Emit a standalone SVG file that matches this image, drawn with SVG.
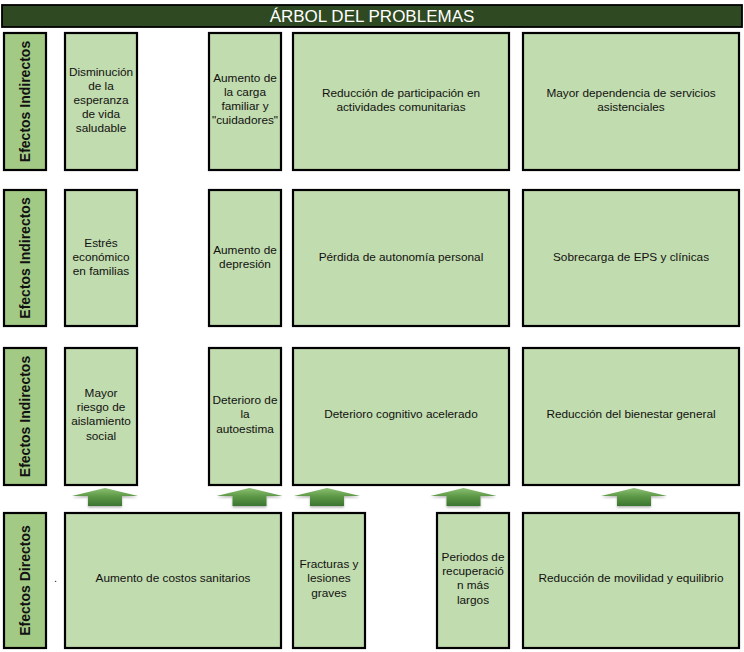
<svg xmlns="http://www.w3.org/2000/svg" width="744" height="652" viewBox="0 0 744 652">
<style>
.box{fill:#c1dcae;stroke:#000;stroke-width:2.2}
.lab{fill:#a2ca85;stroke:#000;stroke-width:2.2}
.t{font-family:"Liberation Sans",Arial,sans-serif;font-size:11.8px;fill:#111;text-anchor:middle}
.v{font-family:"Liberation Sans",Arial,sans-serif;font-size:14px;font-weight:bold;fill:#111;text-anchor:middle}
.arr{fill:url(#ag)}
</style>
<defs>
<linearGradient id="ag" x1="0" y1="0" x2="0" y2="1">
<stop offset="0" stop-color="#8cc072"/>
<stop offset="0.45" stop-color="#5e9a48"/>
<stop offset="1" stop-color="#3b7431"/>
</linearGradient>
<filter id="sh" x="-20%" y="-20%" width="140%" height="160%">
<feDropShadow dx="0" dy="1.5" stdDeviation="1" flood-color="#000" flood-opacity="0.3"/>
</filter>
<path id="arrow" d="M-33,8 L0,0 L33,8 L17,8 L17,18 L-17,18 L-17,8 Z"/>
</defs>

<g id="title">
<rect x="2" y="5" width="740" height="22" fill="#2f4a22" stroke="#000" stroke-width="1.8"/>
<text x="372" y="22" font-family="Liberation Sans,Arial,sans-serif" font-size="17" fill="#fff" text-anchor="middle">ÁRBOL DEL PROBLEMAS</text>
</g>

<g id="labels">
<g id="lab1"><rect class="lab" x="4" y="33" width="42" height="137"/><text class="v" transform="translate(30,101.5) rotate(-90)">Efectos Indirectos</text></g>
<g id="lab2"><rect class="lab" x="4" y="190" width="42" height="136"/><text class="v" transform="translate(30,258) rotate(-90)">Efectos Indirectos</text></g>
<g id="lab3"><rect class="lab" x="4" y="348" width="42" height="137"/><text class="v" transform="translate(30,416.5) rotate(-90)">Efectos Indirectos</text></g>
<g id="lab4"><rect class="lab" x="4" y="513" width="42" height="135"/><text class="v" transform="translate(30,580.5) rotate(-90)">Efectos Directos</text></g>
</g>

<g id="row1">
<g id="n1a"><rect class="box" x="65" y="33" width="72" height="137"/>
<text class="t" x="101" y="76">Disminución</text><text class="t" x="101" y="90">de la</text><text class="t" x="101" y="104">esperanza</text><text class="t" x="101" y="118">de vida</text><text class="t" x="101" y="132">saludable</text></g>
<g id="n1b"><rect class="box" x="209" y="33" width="72" height="137"/>
<text class="t" x="245" y="82">Aumento de</text><text class="t" x="245" y="96">la carga</text><text class="t" x="245" y="110">familiar y</text><text class="t" x="245" y="124">"cuidadores"</text></g>
<g id="n1c"><rect class="box" x="293" y="33" width="216" height="137"/>
<text class="t" x="401" y="97">Reducción de participación en</text><text class="t" x="401" y="111">actividades comunitarias</text></g>
<g id="n1d"><rect class="box" x="523" y="33" width="216" height="137"/>
<text class="t" x="631" y="97">Mayor dependencia de servicios</text><text class="t" x="631" y="111">asistenciales</text></g>
</g>

<g id="row2">
<g id="n2a"><rect class="box" x="65" y="190" width="72" height="136"/>
<text class="t" x="101" y="247">Estrés</text><text class="t" x="101" y="261">económico</text><text class="t" x="101" y="275">en familias</text></g>
<g id="n2b"><rect class="box" x="209" y="190" width="72" height="136"/>
<text class="t" x="245" y="254">Aumento de</text><text class="t" x="245" y="268">depresión</text></g>
<g id="n2c"><rect class="box" x="293" y="190" width="216" height="136"/>
<text class="t" x="401" y="261">Pérdida de autonomía personal</text></g>
<g id="n2d"><rect class="box" x="523" y="190" width="216" height="136"/>
<text class="t" x="631" y="261">Sobrecarga de EPS y clínicas</text></g>
</g>

<g id="row3">
<g id="n3a"><rect class="box" x="65" y="348" width="72" height="137"/>
<text class="t" x="101" y="397">Mayor</text><text class="t" x="101" y="411">riesgo de</text><text class="t" x="101" y="425">aislamiento</text><text class="t" x="101" y="440">social</text></g>
<g id="n3b"><rect class="box" x="209" y="348" width="72" height="137"/>
<text class="t" x="245" y="404">Deterioro de</text><text class="t" x="245" y="418">la</text><text class="t" x="245" y="433">autoestima</text></g>
<g id="n3c"><rect class="box" x="293" y="348" width="216" height="137"/>
<text class="t" x="401" y="418">Deterioro cognitivo acelerado</text></g>
<g id="n3d"><rect class="box" x="523" y="348" width="216" height="137"/>
<text class="t" x="631" y="418">Reducción del bienestar general</text></g>
</g>

<g id="row4">
<text x="54" y="582" font-family="Liberation Sans,Arial,sans-serif" font-size="11" fill="#111">.</text>
<g id="n4a"><rect class="box" x="65" y="513" width="216" height="135"/>
<text class="t" x="173" y="582">Aumento de costos sanitarios</text></g>
<g id="n4b"><rect class="box" x="293" y="513" width="72" height="135"/>
<text class="t" x="329" y="568">Fracturas y</text><text class="t" x="329" y="582">lesiones</text><text class="t" x="329" y="597">graves</text></g>
<g id="n4c"><rect class="box" x="437" y="513" width="72" height="135"/>
<text class="t" x="473" y="561">Periodos de</text><text class="t" x="473" y="575">recuperació</text><text class="t" x="473" y="589">n más</text><text class="t" x="473" y="604">largos</text></g>
<g id="n4d"><rect class="box" x="523" y="513" width="216" height="135"/>
<text class="t" x="631" y="582">Reducción de movilidad y equilibrio</text></g>
</g>

<g id="connectors" filter="url(#sh)">
<use href="#arrow" class="arr" x="105" y="488"/>
<use href="#arrow" class="arr" x="249.5" y="488"/>
<use href="#arrow" class="arr" x="327" y="488"/>
<use href="#arrow" class="arr" x="463.5" y="488"/>
<use href="#arrow" class="arr" x="634" y="488"/>
</g>
</svg>
